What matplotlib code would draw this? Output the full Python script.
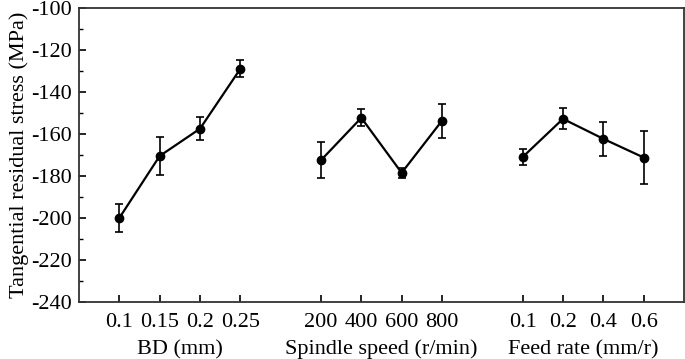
import matplotlib
matplotlib.use('Agg')
import matplotlib.pyplot as plt
from matplotlib.ticker import MultipleLocator

plt.rcParams['font.family'] = ['Liberation Serif', 'DejaVu Serif']
plt.rcParams['axes.unicode_minus'] = False

# group labels and tick labels
groups = ['BD (mm)', 'Spindle speed (r/min)', 'Feed rate (mm/r)']
bd_labels = ['0.1', '0.15', '0.2', '0.25']
speed_labels = ['200', '400', '600', '800']
feed_labels = ['0.1', '0.2', '0.4', '0.6']

# values (MPa) and error bars
bd_vals = [-200.0, -170.5, -157.5, -129.0]
bd_err = [6.5, 9.0, 5.5, 4.0]
speed_vals = [-172.5, -152.3, -178.5, -153.7]
speed_err = [8.5, 4.0, 2.5, 8.0]
feed_vals = [-171.0, -152.8, -162.3, -171.2]
feed_err = [3.8, 5.0, 8.0, 12.5]

fs = 16

fig = plt.figure(figsize=(6.85, 3.59), dpi=100)
ax = fig.add_axes([0.1153, 0.1588, 0.8832, 0.819])

series = [(bd_labels, bd_vals, bd_err),
          (speed_labels, speed_vals, speed_err),
          (feed_labels, feed_vals, feed_err)]

xticks = []
xlabels = []
for i, (labs, vals, errs) in enumerate(series):
    xs = [1 + 5 * i + k for k in range(len(vals))]
    ax.errorbar(xs, vals, yerr=errs, color='black', marker='o', markersize=6,
                linewidth=1.6, elinewidth=1.2, capsize=3, capthick=1.2)
    xticks += xs
    xlabels += labs
    ax.text(sum(xs) / len(xs), -0.162, groups[i], transform=ax.get_xaxis_transform(),
            ha='center', va='center', fontsize=fs)

ax.set_xlim(0, 15)
ax.set_ylim(-240, -100)
ax.set_xticks(xticks)
ax.set_xticklabels(xlabels, fontsize=fs)
ax.yaxis.set_major_locator(MultipleLocator(20))
ax.yaxis.set_minor_locator(MultipleLocator(10))
ax.tick_params(axis='both', direction='in', labelsize=fs, width=1.2, length=5,
               top=False, right=False)
ax.tick_params(axis='y', which='minor', direction='in', length=3, width=1.0)
ax.tick_params(axis='x', pad=8)
ax.tick_params(axis='y', pad=5)
for s in ax.spines.values():
    s.set_linewidth(1.3)
    s.set_color('#333333')
ax.set_ylabel('Tangential residual stress (MPa)', fontsize=fs, labelpad=2)

fig.savefig('out.png', dpi=100)
